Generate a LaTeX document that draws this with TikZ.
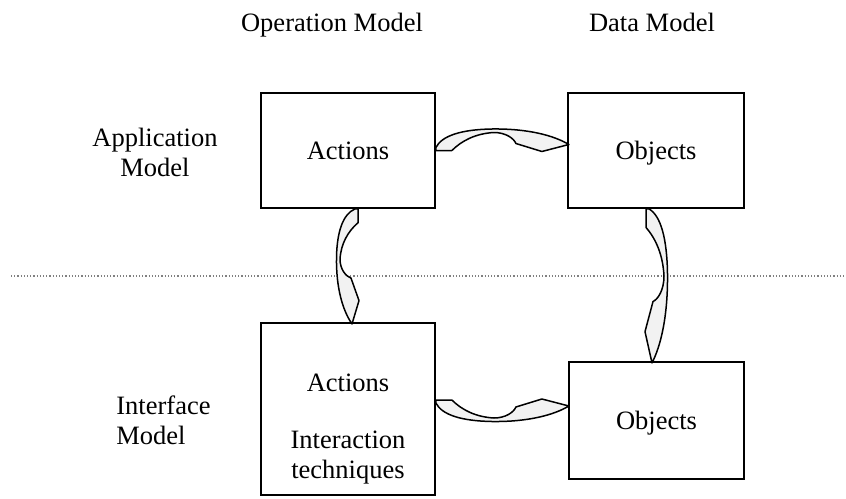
\documentclass[tikz,border=0pt]{standalone}
\usepackage{fontspec}
\setmainfont{Liberation Serif}
\usetikzlibrary{calc,positioning}
\tikzset{box/.style={draw, line width=.9pt, inner sep=0pt}}
\tikzset{txt/.style={text height=9pt, text depth=0pt}}
\tikzset{curlarrow/.pic={
  \filldraw[fill=black!5, line width=.75pt, line join=round]
    (0,0) -- (16,0) .. controls (26,10) and (40,17) .. (58,18)
    .. controls (70,18) and (78,12) .. (80,7) -- (106,-1) -- (133,6)
    .. controls (118,15) and (92,22) .. (56,21.5)
    .. controls (26,21) and (6,15) .. (0,3) -- cycle;
}}

\begin{document}
\begin{tikzpicture}[x=0.5pt,y=0.5pt,every node/.style={font=\fontsize{13.25}{15}\selectfont}]
  \useasboundingbox (0,0) rectangle (846,-498);
  \node[txt] (opLbl) at (332,-23) {Operation Model};
  \node[txt] (dataLbl) at (652,-23) {Data Model};
  \node[align=center] (appLbl) at (155,-152) {Application\\Model};
  \node[align=left,anchor=west,inner sep=0pt] (intLbl) at (116,-420) {Interface\\Model};

  \node[box,txt,minimum width=87pt,minimum height=57.5pt] (actA) at (348,-150.5) {Actions};
  \node[box,txt,minimum width=88pt,minimum height=57.5pt] (objA) at (656,-150.5) {Objects};
  \node[box,minimum width=87pt,minimum height=86pt] (actI) at (348,-409) {};
  \node[txt] (actIa) at (348,-382) {Actions};
  \node[align=center] (techI) at (348,-458) {Interaction\\techniques};
  \node[box,txt,minimum width=87.5pt,minimum height=58.5pt] (objI) at (656.5,-420.5) {Objects};

  \coordinate (sepL) at (11,-276);
  \coordinate (sepR) at (846,-276);
  \draw[densely dotted,gray,line width=.6pt] (sepL) -- (sepR);

  \pic at (actA.east) {curlarrow};
  \pic[yscale=-1] at ([yshift=4.5pt]actI.east) {curlarrow};
  \pic[rotate=-90,yscale=-1,xscale=.865] at ([xshift=5pt]actA.south) {curlarrow};
  \pic[rotate=-90,xscale=1.158] at ([xshift=-5pt]objA.south) {curlarrow};
\end{tikzpicture}
\end{document}
